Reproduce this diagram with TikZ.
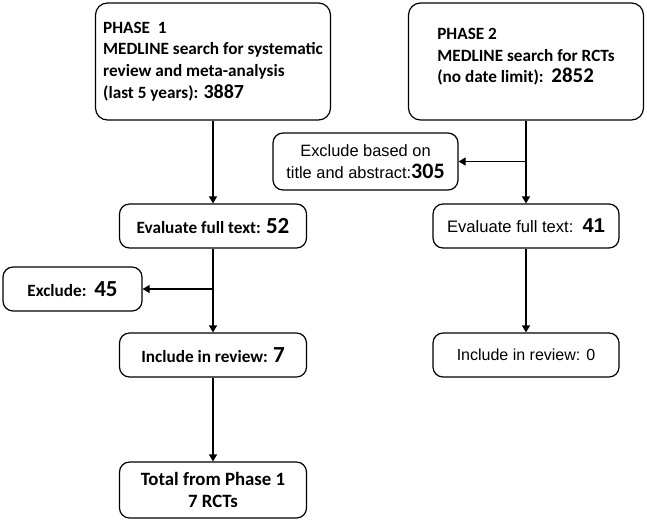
\documentclass[tikz,border=0pt]{standalone}
\usepackage{fontspec}
\setmainfont{Carlito}
\newfontfamily\arialfont{Liberation Sans}
\usetikzlibrary{arrows.meta}

\begin{document}
\begin{tikzpicture}[x=0.5pt,y=-0.5pt,
  box/.style={draw,line width=0.6pt,rounded corners=5pt,align=center,inner sep=2pt,
    font=\bfseries\fontsize{8.6}{10.8}\selectfont},
  phase/.style={box,align=left,rounded corners=6pt,minimum width=117.5pt,minimum height=58.5pt},
  small/.style={box,minimum width=93.5pt,minimum height=22pt},
  sans/.style={font=\arialfont\fontsize{#1}{11}\selectfont},
  sans/.default=8.3,
  arr/.style={-{Triangle[length=3.5pt,width=4pt]},line width=0.6pt}]
  \useasboundingbox (0,0) rectangle (647,521);

  % Phase 1 column
  \node[phase] (p1) at (213,61.5) {PHASE\ \ 1\\MEDLINE search for systematic\\review and meta-analysis\\(last 5 years): {\fontsize{10}{10}\selectfont 3887}};
  \node[small] (ev1) at (213,226) {Evaluate full text: {\fontsize{11.5}{11}\selectfont 52}};
  \node[small,minimum width=69.5pt] (ex1) at (72.5,289) {Exclude:\ \ {\fontsize{11.5}{11}\selectfont 45}};
  \node[small] (in1) at (213,355) {Include in review: {\fontsize{11.5}{11}\selectfont 7}};
  \node[small,minimum height=28pt,font=\bfseries\fontsize{9.4}{11}\selectfont] (tot) at (213,490) {Total from Phase 1\\7 RCTs};

  % Phase 2 column
  \node[phase,text depth=6pt] (p2) at (526,61.5) {PHASE 2\\MEDLINE search for RCTs\\(no date limit):\ \ {\fontsize{10.5}{10}\selectfont 2852}};
  \node[small,minimum width=92.5pt,minimum height=28.5pt,sans=8.2] (ex2) at (365.5,161.5) {Exclude based on\\title and abstract:{\rmfamily\bfseries\fontsize{11}{10}\selectfont 305}};
  \node[small,minimum width=93pt,sans] (ev2) at (526,226) {Evaluate full text:\ \ {\bfseries\fontsize{10}{10}\selectfont 41}};
  \node[small,minimum width=93pt,sans=8] (in2) at (526,355) {Include in review: 0};

  % connectors
  \coordinate (j1) at (ev1.south |- ex1.east);
  \coordinate (j2) at (p2.south |- ex2.east);
  \draw[arr] (p1.south) -- (ev1.north);
  \draw[arr] (ev1.south) -- (in1.north);
  \draw[arr] (j1) -- (ex1.east);
  \draw[arr] (in1.south) -- (tot.north);
  \draw[arr] (p2.south) -- (ev2.north);
  \draw[arr] (j2) -- (ex2.east);
  \draw[arr] (ev2.south) -- (in2.north);
\end{tikzpicture}
\end{document}
